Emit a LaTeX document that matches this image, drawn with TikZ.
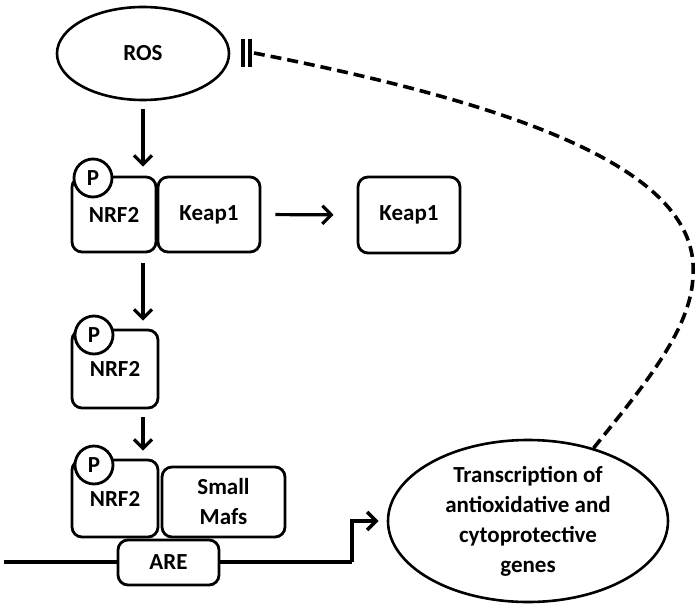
\documentclass[tikz,border=0pt]{standalone}
\usepackage{fontspec}
\setmainfont{Carlito}
\usetikzlibrary{arrows.meta,shapes.geometric}
\begin{document}
\begin{tikzpicture}[x=1pt,y=-1pt,
  every node/.style={font=\fontsize{23}{30}\selectfont\bfseries},
  box/.style={draw,line width=2.8pt,rounded corners=10pt,fill=white,inner sep=0pt,align=center},
  pcirc/.style={draw,circle,line width=2.8pt,fill=white,minimum size=38pt,inner sep=0pt},
  oval/.style={draw,ellipse,line width=2.6pt,inner sep=0pt,align=center,fill=white},
  arr/.style={line width=3.2pt,-{Straight Barb[length=9pt,width=18pt]}},
  inhline/.style={line width=3.6pt,dash pattern=on 11pt off 6pt},
  barline/.style={line width=3.6pt},
  dnaline/.style={line width=3.6pt}
]
\useasboundingbox (0,0) rectangle (700,607);

% ROS
\node[oval,minimum width=172pt,minimum height=93pt] (ROS) at (143,53.5) {ROS};

% first complex
\node[box,minimum width=84pt,minimum height=75pt] (nrfA) at (114,214.5) {NRF2};
\node[box,minimum width=102pt,minimum height=75pt] (keapA) at (209,214.5) {Keap1};
\node[pcirc] (pA) at (93,178) {P};
\node[box,minimum width=102pt,minimum height=76pt] (keapB) at (409,215) {Keap1};

% free NRF2
\node[box,minimum width=86pt,minimum height=78pt] (nrfB) at (115,369) {NRF2};
\node[pcirc] (pB) at (94,335) {P};

% transcription ellipse
\node[oval,minimum width=280pt,minimum height=162pt] (trans) at (528,521)
  {Transcription of\\antioxidative and\\cytoprotective\\genes};

% DNA line
\coordinate (dnaL) at (4,562);
\coordinate (bend) at (352,562);
\draw[dnaline] (dnaL) -- (bend);
\draw[arr,line width=3.6pt] (bend) |- ([xshift=-8pt]trans.west);

% NRF2 on ARE
\node[box,minimum width=86pt,minimum height=77pt] (nrfC) at (115,498.5) {NRF2};
\node[pcirc] (pC) at (94,465) {P};
\node[box,minimum width=123pt,minimum height=70pt] (mafs) at (223.5,502) {Small\\Mafs};
\node[box,minimum width=101pt,minimum height=45pt] (are) at (168.5,562.5) {ARE};

% arrows
\draw[arr,shorten <=8pt,shorten >=9pt] (ROS.south) -- (ROS.south |- nrfA.north);
\draw[arr,shorten <=10pt,shorten >=8pt] (ROS.south |- nrfA.south) -- (ROS.south |- nrfB.north);
\draw[arr,shorten <=8pt,shorten >=8pt] (ROS.south |- nrfB.south) -- (ROS.south |- nrfC.north);
\draw[arr,shorten <=14pt,shorten >=23pt] (keapA.east) -- (keapB.west);

% inhibitory feedback
\coordinate (inh) at (254,53);
\draw[inhline] (trans.48) .. controls (640,390) and (692,330) .. (693,275)
  .. controls (700,170) and (520,105) .. (inh);
\draw[barline] (243,39) -- (243,67);
\draw[barline] (250,39) -- (250,67);
\end{tikzpicture}
\end{document}
